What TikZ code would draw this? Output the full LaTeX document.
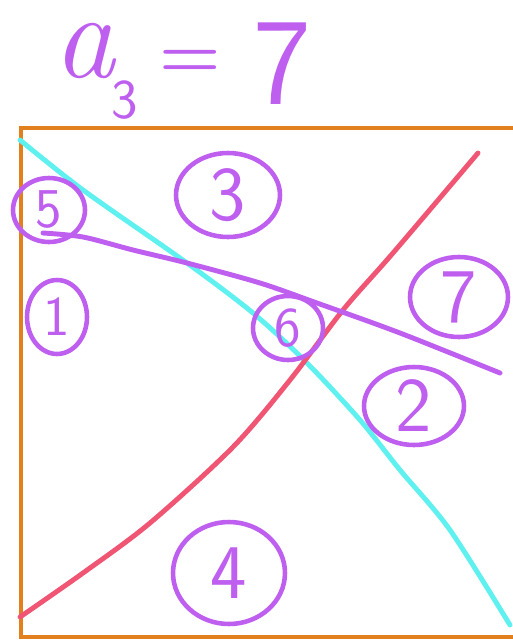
\documentclass[tikz,border=0pt]{standalone}
\usepackage{fontspec}
\usetikzlibrary{shapes.geometric}
\definecolor{boxorange}{RGB}{226,128,32}
\definecolor{penpurple}{RGB}{190,95,240}
\definecolor{pencyan}{RGB}{95,240,240}
\definecolor{penred}{RGB}{240,85,115}
\tikzset{
  region/.style={ellipse, draw=penpurple, line width=2.6pt, text=penpurple,
    inner sep=0pt, font=\sffamily\fontsize{44}{44}\selectfont},
  small region/.style={region, font=\sffamily\fontsize{32}{32}\selectfont},
  title/.style={text=penpurple, inner sep=1pt},
  stroke/.style={line width=2.8pt, line cap=round, line join=round}
}
\begin{document}
\begin{tikzpicture}[x=0.02cm, y=-0.02cm]
  \useasboundingbox (0,0) rectangle (513,640);
  % frame
  \draw[boxorange, line width=2.8pt] (513,128) -- (21,128) -- (21,637) -- (513,637);

  % title: a_3 = 7
  \node[title, anchor=base west, font=\fontsize{70}{70}\selectfont\itshape] (ta) at (51,77) {a\/};
  \node[title, anchor=base west, font=\sffamily\fontsize{32}{32}\selectfont] (tsub) at (109,118) {3};
  \node[title, font=\bfseries\fontsize{40}{40}\selectfont] (teq) at (190,64) {=};
  \node[title, anchor=base west, font=\sffamily\fontsize{70}{70}\selectfont] (tval) at (251,103) {7};

  % lines
  \draw[stroke, pencyan] plot[smooth] coordinates {(20,140) (83,190) (187,263) (253,313) (307,363) (360,420) (400,470) (450,530) (510,625)};
  \draw[stroke, penred] plot[smooth, tension=0.5] coordinates {(20,617) (83,573) (150,523) (233,447) (290,380) (343,310) (393,253) (478,153)};
  \draw[stroke, penpurple] plot[smooth, tension=0.5] coordinates {(43,233) (83,237) (133,250) (187,263) (260,283) (317,303) (400,333) (500,373)};

  % regions
  \node[small region, minimum width=1.44cm, minimum height=1.28cm] (r5) at (49,210) {5};
  \node[region, minimum width=2.08cm, minimum height=1.68cm] (r3) at (228,195) {3};
  \node[small region, minimum width=1.2cm, minimum height=1.48cm] (r1) at (57,317) {1};
  \node[small region, minimum width=1.4cm, minimum height=1.28cm] (r6) at (288,328) {6};
  \node[region, minimum width=1.96cm, minimum height=1.6cm] (r7) at (459,297) {7};
  \node[region, minimum width=2.0cm, minimum height=1.56cm] (r2) at (414,406) {2};
  \node[region, minimum width=2.24cm, minimum height=2.04cm] (r4) at (229,573) {4};
\end{tikzpicture}
\end{document}
